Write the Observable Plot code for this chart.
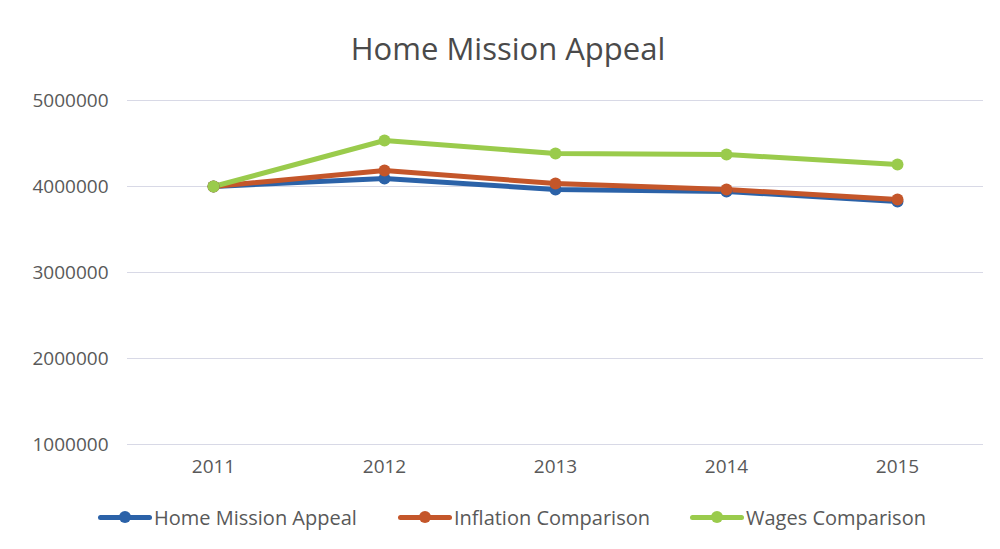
<!DOCTYPE html>
<html>
<head>
<meta charset="utf-8">
<script src="https://cdn.jsdelivr.net/npm/d3@7"></script>
<script src="https://cdn.jsdelivr.net/npm/@observablehq/plot@0.6"></script>
<style>
  body { margin: 0; background: #fff; font-family: "Open Sans", sans-serif; }
  #wrap { width: 1000px; height: 549px; position: relative; overflow: hidden; }
  #title { height: 80px; line-height: 96px; text-align: center; font-size: 31px; color: #4a4a4a; padding-left: 16px; }
  #legend { position: absolute; top: 502px; left: 0; width: 1000px; height: 30px; }
  .item { position: absolute; top: 0; display: flex; align-items: center; font-size: 20px; color: #595959; height: 30px; }
  .sw { position: relative; width: 54px; height: 30px; margin-right: 2px; }
  .sw .ln { position: absolute; left: 0; right: 0; top: 13px; height: 5px; border-radius: 3px; }
  .sw .dt { position: absolute; left: 21px; top: 9px; width: 12px; height: 12px; border-radius: 6px; }
</style>
</head>
<body>
<div id="wrap">
  <div id="title">Home Mission Appeal</div>
  <div id="chart"></div>
  <div id="legend"></div>
</div>
<script>
const years = ["2011", "2012", "2013", "2014", "2015"];
const seriesNames = ["Home Mission Appeal", "Inflation Comparison", "Wages Comparison"];
const seriesColors = ["#2b62a8", "#c4562a", "#9acb4c"];
const homeMission = [4000000, 4093000, 3965000, 3942000, 3826000];
const inflation = [4000000, 4186000, 4035000, 3965000, 3849000];
const wages = [4000000, 4535000, 4384000, 4372000, 4256000];
const yTicks = [1000000, 2000000, 3000000, 4000000, 5000000];

const allSeries = [homeMission, inflation, wages];
const data = [];
allSeries.forEach((vals, si) => {
  vals.forEach((v, i) => data.push({ year: years[i], value: v, series: seriesNames[si] }));
});

const chart = Plot.plot({
  width: 1000,
  height: 410,
  marginLeft: 127,
  marginRight: 17,
  marginTop: 20,
  marginBottom: 46,
  style: { fontFamily: "Open Sans, sans-serif", fontSize: "19px", color: "#595959", background: "transparent" },
  x: { type: "point", domain: years, padding: 0.5, label: null },
  y: { domain: [1000000, 5000000], label: null },
  color: { domain: seriesNames, range: seriesColors },
  marks: [
    Plot.ruleY(yTicks, { stroke: "#d8d9e6", strokeWidth: 1 }),
    Plot.axisY({ ticks: yTicks, tickFormat: d => String(d), tickSize: 0, tickPadding: 19, fontSize: 19, fill: "#595959", label: null }),
    Plot.axisX({ tickSize: 0, tickPadding: 15, fontSize: 19, fill: "#595959", label: null }),
    Plot.line(data, { x: "year", y: "value", z: "series", stroke: "series", strokeWidth: 5, strokeLinecap: "round", strokeLinejoin: "round" }),
    Plot.dot(data, { x: "year", y: "value", fill: "series", r: 6 })
  ]
});
document.getElementById("chart").appendChild(chart);

const legend = document.getElementById("legend");
const lefts = [98, 398, 690];
seriesNames.forEach((n, i) => {
  const it = document.createElement("div");
  it.className = "item";
  it.style.left = lefts[i] + "px";
  it.innerHTML = `<div class="sw"><div class="ln" style="background:${seriesColors[i]}"></div><div class="dt" style="background:${seriesColors[i]}"></div></div><span>${n}</span>`;
  legend.appendChild(it);
});
</script>
</body>
</html>
